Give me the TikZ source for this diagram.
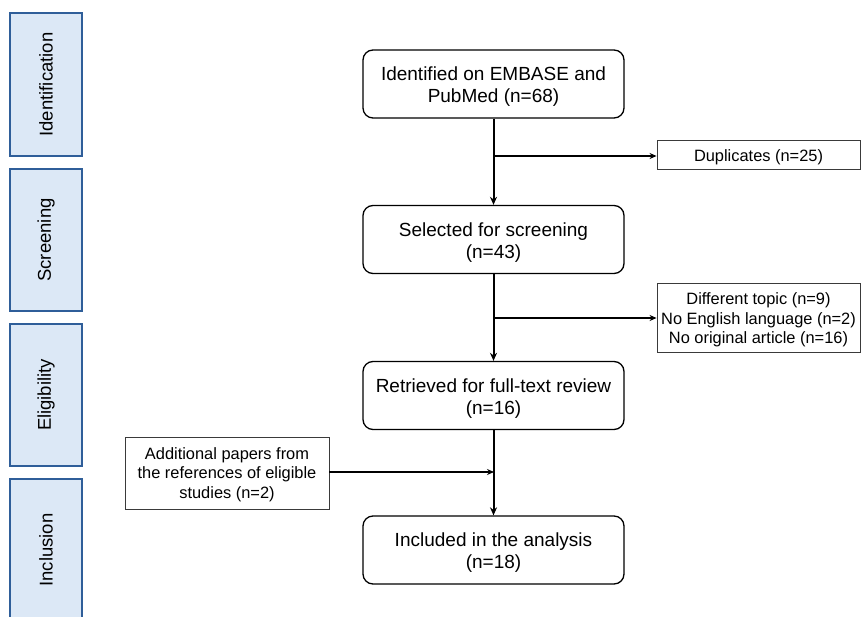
\documentclass[tikz,border=0pt]{standalone}
\usepackage{fontspec}
\setmainfont{Liberation Sans}
\usetikzlibrary{arrows.meta}
\definecolor{stagefill}{HTML}{DCE8F6}
\definecolor{stageline}{HTML}{2F5E99}
\definecolor{boxline}{HTML}{3A3A3A}
\begin{document}
\begin{tikzpicture}[x=1pt,y=-1pt,
  stage/.style={draw=stageline,line width=1.3pt,fill=stagefill},
  stagetext/.style={rotate=90,font=\fontsize{18.5}{22}\selectfont},
  mainbox/.style={draw=black,line width=1.3pt,rounded corners=10pt,minimum width=261pt,minimum height=68pt,inner sep=0pt},
  maintext/.style={align=center,font=\fontsize{19}{22}\selectfont,inner sep=0pt,yshift=-3pt},
  sidebox/.style={draw=boxline,line width=0.9pt,inner sep=0pt},
  sidetext/.style={align=center,font=\fontsize{16.4}{19.6}\selectfont,inner sep=0pt,yshift=-2.5pt},
  flow/.style={line width=2pt,-{Stealth[length=8pt,width=7pt]}},
  branch/.style={line width=1.3pt,-{Stealth[length=7pt,width=6pt]}}
]
\useasboundingbox (0,0) rectangle (861,617);
% stages
\draw[stage] (10,13) rectangle (82,156);
\draw[stage] (10,169) rectangle (82,311);
\draw[stage] (10,324) rectangle (82,466);
\draw[stage] (10,479) rectangle (82,630);
\node[stagetext] (s1) at (46,84.5) {Identification};
\node[stagetext] (s2) at (46,240) {Screening};
\node[stagetext] (s3) at (46,395) {Eligibility};
\node[stagetext] (s4) at (46,550) {Inclusion};
% main boxes
\node[mainbox] (b1) at (493.5,84) {};
\node[mainbox] (b2) at (493.5,239.5) {};
\node[mainbox] (b3) at (493.5,395.5) {};
\node[mainbox] (b4) at (493.5,550) {};
\node[maintext] (t1) at (b1) {Identified on EMBASE and\\PubMed (n=68)};
\node[maintext] (t2) at (b2) {Selected for screening\\(n=43)};
\node[maintext] (t3) at (b3) {Retrieved for full-text review\\(n=16)};
\node[maintext] (t4) at (b4) {Included in the analysis\\(n=18)};
% side boxes
\node[sidebox,minimum width=203pt,minimum height=29pt] (d1) at (758.5,154.5) {};
\node[sidebox,minimum width=203pt,minimum height=69pt] (d2) at (758.5,317.5) {};
\node[sidebox,minimum width=204pt,minimum height=72pt] (a1) at (227,473) {};
\node[sidetext] (u1) at (d1) {Duplicates (n=25)};
\node[sidetext] (u2) at (d2) {Different topic (n=9)\\No English language (n=2)\\No original article (n=16)};
\node[sidetext,yshift=1pt] (u3) at (a1) {Additional papers from\\the references of eligible\\studies (n=2)};
% connectors
\draw[flow] (b1) -- (b2);
\draw[flow] (b2) -- (b3);
\draw[flow] (b3) -- (b4);
\coordinate (j1) at (494,156);
\coordinate (j2) at (494,318);
\coordinate (j3) at (494,472);
\draw[branch] (j1) -- (d1.west |- j1);
\draw[branch] (j2) -- (d2.west |- j2);
\draw[branch] (a1.east |- j3) -- (j3);
\end{tikzpicture}
\end{document}
